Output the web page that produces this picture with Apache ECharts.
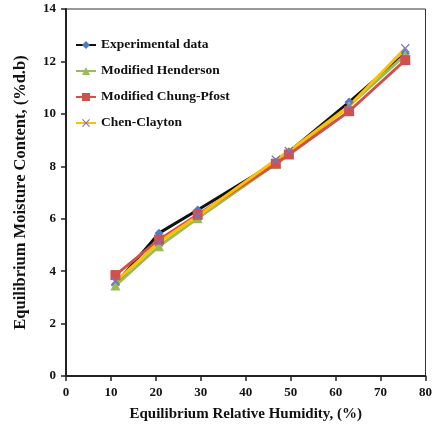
<!DOCTYPE html>
<html>
<head>
<meta charset="utf-8">
<script src="https://cdn.jsdelivr.net/npm/echarts@6/dist/echarts.min.js"></script>
<style>
  html, body { margin: 0; padding: 0; background: #fff; }
  #chart { width: 435px; height: 428px; }
</style>
</head>
<body>
<div id="chart"></div>
<script>
// relative humidity (%) for each salt solution
const humidity = [11.0, 20.7, 29.3, 46.7, 49.6, 63.0, 75.5];

const experimental = [3.5, 5.45, 6.33, 8.15, 8.55, 10.45, 12.3];
const henderson = [3.45, 4.95, 6.02, 8.1, 8.5, 10.3, 12.25];
const chungPfost = [3.85, 5.2, 6.15, 8.1, 8.45, 10.1, 12.05];
const chenClayton = [3.6, 5.1, 6.1, 8.25, 8.58, 10.3, 12.5];

const xTicks = [0, 10, 20, 30, 40, 50, 60, 70, 80];
const yTicks = [0, 2, 4, 6, 8, 10, 12, 14];

const font = "'Liberation Serif', 'Times New Roman', serif";
const crossPath = "path://M0,1L1,0L5,4L9,0L10,1L6,5L10,9L9,10L5,6L1,10L0,9L4,5Z";

function pairs(ys) {
  return humidity.map((x, i) => [x, ys[i]]);
}

function makeSeries(name, ys, lineColor, symbol, symbolColor, size) {
  return {
    name: name,
    type: "line",
    data: pairs(ys),
    symbol: symbol,
    symbolSize: size,
    showSymbol: true,
    lineStyle: { color: lineColor, width: 3 },
    itemStyle: { color: symbolColor },
  };
}

const chart = echarts.init(document.getElementById("chart"));

chart.setOption({
  animation: false,
  grid: {
    left: 66,
    right: 6,
    top: 9,
    bottom: 52,
    show: true,
    borderColor: "#333",
    borderWidth: 1,
  },
  legend: {
    orient: "vertical",
    left: 75,
    top: 38,
    padding: 0,
    itemGap: 12,
    itemWidth: 20,
    itemHeight: 10,
    textStyle: { fontFamily: font, fontWeight: "bold", fontSize: 13.5, color: "#111" },
    data: ["Experimental data", "Modified Henderson", "Modified Chung-Pfost", "Chen-Clayton"],
  },
  xAxis: {
    type: "value",
    min: xTicks[0],
    max: xTicks[xTicks.length - 1],
    interval: 10,
    name: "Equilibrium Relative Humidity, (%)",
    nameLocation: "middle",
    nameGap: 31,
    nameTextStyle: { fontFamily: font, fontWeight: "bold", fontSize: 15, color: "#111" },
    axisLine: { lineStyle: { color: "#222", width: 2 } },
    axisTick: { show: true, inside: false, length: 5, lineStyle: { color: "#222", width: 1.5 } },
    axisLabel: { fontFamily: font, fontWeight: "bold", fontSize: 13, color: "#111", margin: 10 },
    splitLine: { show: false },
  },
  yAxis: {
    type: "value",
    min: yTicks[0],
    max: yTicks[yTicks.length - 1],
    interval: 2,
    name: "Equilibrium Moisture Content, (%d.b)",
    nameLocation: "middle",
    nameGap: 37,
    nameTextStyle: { fontFamily: font, fontWeight: "bold", fontSize: 16.5, color: "#111" },
    axisLine: { show: true, lineStyle: { color: "#222", width: 2 } },
    axisTick: { show: true, inside: false, length: 5, lineStyle: { color: "#222", width: 1.5 } },
    axisLabel: { fontFamily: font, fontWeight: "bold", fontSize: 13, color: "#111", margin: 10 },
    splitLine: { show: false },
  },
  series: [
    makeSeries("Experimental data", experimental, "#111111", "diamond", "#4a7cc8", 9),
    makeSeries("Modified Henderson", henderson, "#9bbb59", "triangle", "#9bbb59", 10),
    makeSeries("Modified Chung-Pfost", chungPfost, "#d0504d", "rect", "#d0504d", 10),
    makeSeries("Chen-Clayton", chenClayton, "#ffc000", crossPath, "#7a74c0", 9),
  ],
});
</script>
</body>
</html>
